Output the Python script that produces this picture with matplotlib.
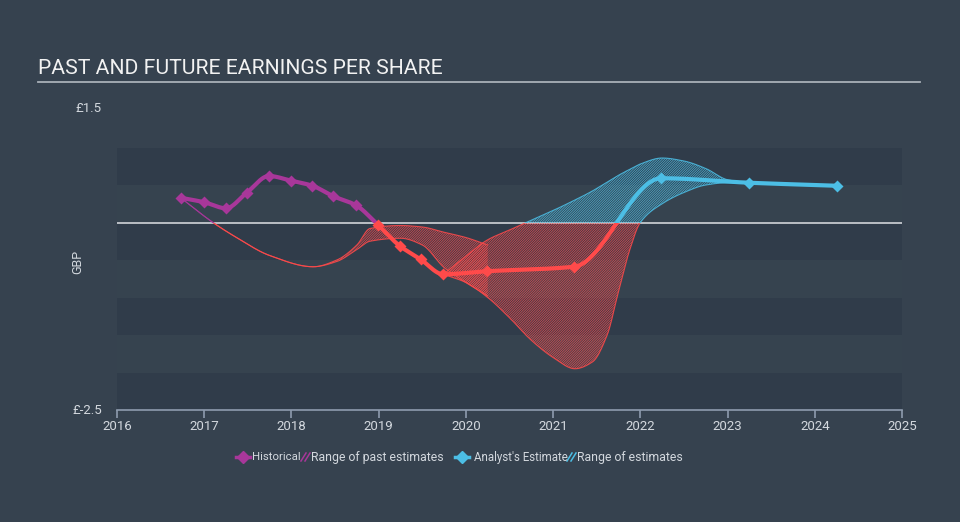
import numpy as np
import matplotlib.pyplot as plt
from matplotlib.patches import Rectangle
from matplotlib.lines import Line2D

plt.rcParams['font.family'] = ['Roboto', 'DejaVu Sans']
plt.rcParams['hatch.linewidth'] = 0.6

# historical EPS (GBP), quarterly-ish points
hist_x = [2016.73, 2017.0, 2017.25, 2017.49, 2017.74, 2017.99, 2018.24, 2018.48, 2018.74,
          2018.99, 2019.24, 2019.48, 2019.74, 2020.24, 2021.24]
hist_y = [0.33, 0.27, 0.19, 0.40, 0.62, 0.56, 0.49, 0.35, 0.23,
          -0.03, -0.31, -0.49, -0.69, -0.65, -0.59]

# analyst estimates
fc_x = [2022.24, 2023.25, 2024.25]
fc_y = [0.59, 0.53, 0.49]

# range of past estimates
past_x = [2016.73, 2017.1, 2017.37, 2017.75, 2018.25, 2018.52, 2018.75, 2018.9,
          2019.25, 2019.5, 2019.75, 2020.0, 2020.25]
past_hi = [0.33, 0.0, -0.2, -0.44, -0.59, -0.5, -0.3, -0.08,
           -0.04, -0.06, -0.13, -0.2, -0.3]
past_lo = [0.33, 0.0, -0.2, -0.44, -0.59, -0.52, -0.36, -0.25,
           -0.21, -0.3, -0.6, -0.8, -0.98]

# range of estimates
fut_x = [2019.74, 2020.0, 2020.25, 2020.5, 2020.75, 2021.0, 2021.25, 2021.45,
         2021.62, 2021.75, 2021.88, 2022.0, 2022.25, 2022.5, 2022.75, 2023.0, 2023.25]
fut_hi = [-0.69, -0.45, -0.23, -0.1, 0.03, 0.16, 0.3, 0.42,
          0.54, 0.63, 0.71, 0.78, 0.86, 0.82, 0.72, 0.57, 0.53]
fut_lo = [-0.69, -0.8, -1.0, -1.27, -1.57, -1.8, -1.95, -1.86,
          -1.5, -0.92, -0.36, 0.0, 0.25, 0.4, 0.5, 0.53, 0.53]

BG = '#36424f'
DARK = '#303c4a'
LIGHT = '#36434f'
PURPLE = '#a8379a'
RED = '#ff4a4a'
BLUE = '#4cbee5'
TXT = '#d3d8de'


def pchip(x, y, xs):
    '''monotone cubic, like d3 curveMonotoneX'''
    x = np.asarray(x, float)
    y = np.asarray(y, float)
    h = np.diff(x)
    d = np.diff(y) / h
    m = np.zeros_like(y)
    for k in range(1, len(x) - 1):
        if d[k - 1] * d[k] > 0:
            w1 = 2 * h[k] + h[k - 1]
            w2 = h[k] + 2 * h[k - 1]
            m[k] = (w1 + w2) / (w1 / d[k - 1] + w2 / d[k])
    m[0] = d[0]
    m[-1] = d[-1]
    i = np.clip(np.searchsorted(x, xs) - 1, 0, len(x) - 2)
    t = (xs - x[i]) / h[i]
    h00 = 2 * t**3 - 3 * t**2 + 1
    h10 = t**3 - 2 * t**2 + t
    h01 = -2 * t**3 + 3 * t**2
    h11 = t**3 - t**2
    return h00 * y[i] + h10 * h[i] * m[i] + h01 * y[i + 1] + h11 * h[i] * m[i + 1]


fig = plt.figure(figsize=(9.6, 5.22), dpi=100)
fig.patch.set_facecolor(BG)
ax = fig.add_axes([117 / 960, 112 / 522, 785 / 960, 300 / 522])
ax.patch.set_alpha(0)
ax.set_xlim(2016, 2025)
ax.set_ylim(-2.5, 1.5)


def clip_box(x0, x1, y0, y1):
    return Rectangle((x0, y0), x1 - x0, y1 - y0, transform=ax.transData)


# background stripes
for i, lo in enumerate(np.arange(-2.5, 1.0, 0.5)):
    ax.axhspan(lo, lo + 0.5, color=DARK if i % 2 == 0 else LIGHT, lw=0, zorder=0)
ax.axhline(0, color='#c5c9ce', lw=1.3, zorder=2)

# estimate ranges, hatched
for bx, blo, bhi, above in [(past_x, past_lo, past_hi, PURPLE), (fut_x, fut_lo, fut_hi, BLUE)]:
    xd = np.linspace(bx[0], bx[-1], 600)
    lo_d = pchip(bx, blo, xd)
    hi_d = pchip(bx, bhi, xd)
    for col, (y0, y1) in [(above, (0, 5)), (RED, (-5, 0))]:
        f = ax.fill_between(xd, lo_d, hi_d, facecolor='none', edgecolor=col,
                            hatch='/' * 14, lw=0, alpha=0.8, zorder=3)
        f.set_clip_path(clip_box(2015, 2026, y0, y1))
        for edge in (lo_d, hi_d):
            e, = ax.plot(xd, edge, color=col, lw=0.8, alpha=0.85, zorder=3)
            e.set_clip_path(clip_box(2015, 2026, y0, y1))

# EPS line: red below zero, purple past / blue future above zero
all_x = hist_x + fc_x
all_y = hist_y + fc_y
xd = np.linspace(all_x[0], all_x[-1], 2000)
yd = pchip(all_x, all_y, xd)
split = hist_x[-1]
for col, box in [(RED, (2015, 2026, -5, 0)), (PURPLE, (2015, split, 0, 5)), (BLUE, (split, 2026, 0, 5))]:
    ln, = ax.plot(xd, yd, color=col, lw=3, zorder=5)
    ln.set_clip_path(clip_box(*box))

for x, y in zip(hist_x, hist_y):
    ax.plot(x, y, marker='D', ms=6.5, color=PURPLE if y >= 0 else RED, mec='none', zorder=6)
for x, y in zip(fc_x, fc_y):
    ax.plot(x, y, marker='D', ms=6.5, color=BLUE if y >= 0 else RED, mec='none', zorder=6)

# axes styling
for s in ['top', 'right', 'left']:
    ax.spines[s].set_visible(False)
ax.spines['bottom'].set_color('#8e9cae')
ax.spines['bottom'].set_linewidth(1.2)
ax.set_xticks(range(2016, 2026))
ax.tick_params(axis='x', colors='#8e9cae', length=6, width=1.2, labelcolor=TXT, labelsize=9.5, pad=1)
ax.set_yticks([])
fig.text(102 / 960, 1 - 109 / 522, '£1.5', color=TXT, fontsize=9.5, ha='right', va='center')
fig.text(102 / 960, 1 - 411 / 522, '£-2.5', color=TXT, fontsize=9.5, ha='right', va='center')

fig.text(78 / 960, 1 - 262 / 522, 'GBP', rotation=90, va='center', ha='center', color=TXT, fontsize=9)

# title + rule
fig.text(38 / 960, 1 - 69 / 522, 'PAST AND FUTURE EARNINGS PER SHARE', color='#f2f2f2',
         fontsize=15.2, va='center', ha='left')
fig.add_artist(Line2D([38 / 960, 920 / 960], [1 - 81.5 / 522] * 2, color='#a9b0b8', lw=1.3))

# legend
ly = 1 - 457 / 522


def legend_hatch(x0, col):
    for dx in (0, 4):
        fig.add_artist(Line2D([(x0 + dx) / 960, (x0 + dx + 5) / 960], [ly - 4 / 522, ly + 4 / 522],
                              color=col, lw=1.1))


fig.add_artist(Line2D([236 / 960, 250 / 960], [ly, ly], color=PURPLE, lw=2.5))
fig.add_artist(Line2D([243 / 960], [ly], color=PURPLE, marker='D', ms=6, lw=0))
fig.text(252 / 960, ly, 'Historical', color=TXT, fontsize=8.2, va='center', ha='left')
legend_hatch(301, PURPLE)
fig.text(311 / 960, ly, 'Range of past estimates', color=TXT, fontsize=8.8, va='center', ha='left')
fig.add_artist(Line2D([455 / 960, 469 / 960], [ly, ly], color=BLUE, lw=2.5))
fig.add_artist(Line2D([462 / 960], [ly], color=BLUE, marker='D', ms=6, lw=0))
fig.text(474 / 960, ly, "Analyst's Estimate", color=TXT, fontsize=8.3, va='center', ha='left')
legend_hatch(567, BLUE)
fig.text(577 / 960, ly, 'Range of estimates', color=TXT, fontsize=8.8, va='center', ha='left')

fig.savefig('out.png', dpi=100, facecolor=BG)
